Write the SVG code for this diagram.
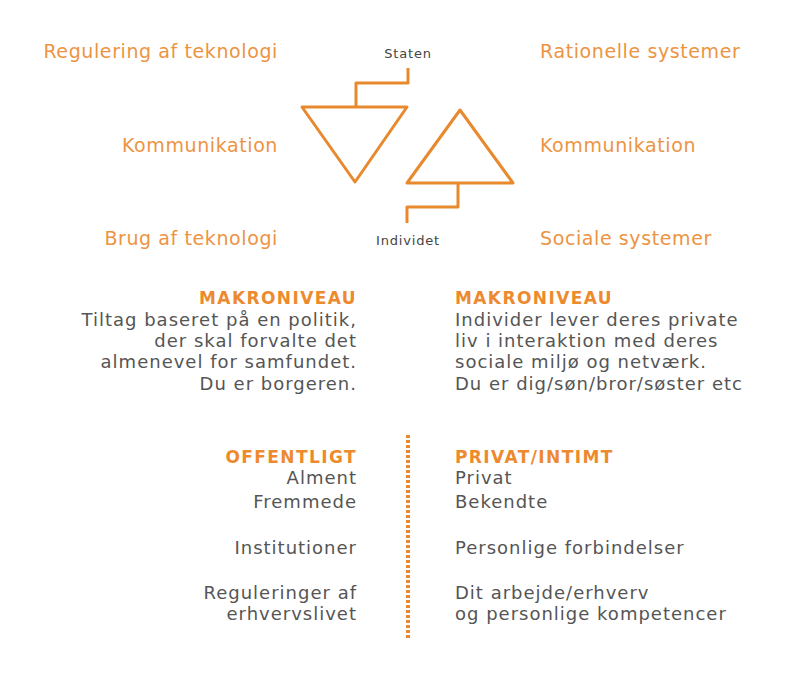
<svg xmlns="http://www.w3.org/2000/svg" width="804" height="686" viewBox="0 0 804 686">
<style>
.lbl{font-family:"DejaVu Sans","Liberation Sans",sans-serif;font-size:19px;fill:#EC9443;letter-spacing:0.6px}
.small{font-family:"DejaVu Sans","Liberation Sans",sans-serif;font-size:13px;fill:#444;letter-spacing:0.8px}
.hd{font-family:"DejaVu Sans","Liberation Sans",sans-serif;font-size:17px;fill:#EE8A2E;font-weight:700;letter-spacing:1.4px}
.body{font-family:"DejaVu Sans","Liberation Sans",sans-serif;font-size:18px;fill:#555;letter-spacing:1px}
.r{text-anchor:end}
.line{fill:none;stroke:#E8892E;stroke-width:3;stroke-linejoin:round;stroke-linecap:butt}
</style>
<defs><clipPath id="cp"><rect x="0" y="0" width="750" height="686"/></clipPath></defs>
<rect width="804" height="686" fill="#fff"/>
<g id="labels-left">
<text class="lbl r" x="278" y="58">Regulering af teknologi</text>
<text class="lbl r" x="278" y="152">Kommunikation</text>
<text class="lbl r" x="278" y="245">Brug af teknologi</text>
</g>
<g id="labels-right">
<text class="lbl" x="540" y="58">Rationelle systemer</text>
<text class="lbl" x="540" y="152">Kommunikation</text>
<text class="lbl" x="540" y="245">Sociale systemer</text>
</g>
<g id="staten"><text class="small" x="408" y="58" text-anchor="middle">Staten</text></g>
<g id="individet"><text class="small" x="408" y="245" text-anchor="middle">Individet</text></g>
<g id="triangle-down"><polygon class="line" points="302,107 407,107 355,182"/></g>
<g id="triangle-up"><polygon class="line" points="460,110 513,183 407,183"/></g>
<g id="connectors">
<polyline class="line" points="408,68 408,83 356,83 356,107"/>
<polyline class="line" points="458,183 458,207 407,207 407,223"/>
<line x1="408" y1="435" x2="408" y2="638" stroke="#E8892E" stroke-width="4" stroke-dasharray="3,2"/>
</g>
<g id="makro-left">
<text class="hd r" x="357" y="304">MAKRONIVEAU</text>
<text class="body r" x="357" y="326">Tiltag baseret på en politik,</text>
<text class="body r" x="357" y="347">der skal forvalte det</text>
<text class="body r" x="357" y="368">almenevel for samfundet.</text>
<text class="body r" x="357" y="390">Du er borgeren.</text>
</g>
<g id="makro-right" clip-path="url(#cp)">
<text class="hd" x="455" y="304">MAKRONIVEAU</text>
<text class="body" x="455" y="326">Individer lever deres private</text>
<text class="body" x="455" y="347">liv i interaktion med deres</text>
<text class="body" x="455" y="368">sociale miljø og netværk.</text>
<text class="body" x="455" y="390">Du er dig/søn/bror/søster etc</text>
</g>
<g id="offentligt">
<text class="hd r" x="357" y="463">OFFENTLIGT</text>
<text class="body r" x="357" y="484">Alment</text>
<text class="body r" x="357" y="508">Fremmede</text>
<text class="body r" x="357" y="554">Institutioner</text>
<text class="body r" x="357" y="599">Reguleringer af</text>
<text class="body r" x="357" y="620">erhvervslivet</text>
</g>
<g id="privat">
<text class="hd" x="455" y="463">PRIVAT/INTIMT</text>
<text class="body" x="455" y="484">Privat</text>
<text class="body" x="455" y="508">Bekendte</text>
<text class="body" x="455" y="554">Personlige forbindelser</text>
<text class="body" x="455" y="599">Dit arbejde/erhverv</text>
<text class="body" x="455" y="620">og personlige kompetencer</text>
</g>
</svg>
